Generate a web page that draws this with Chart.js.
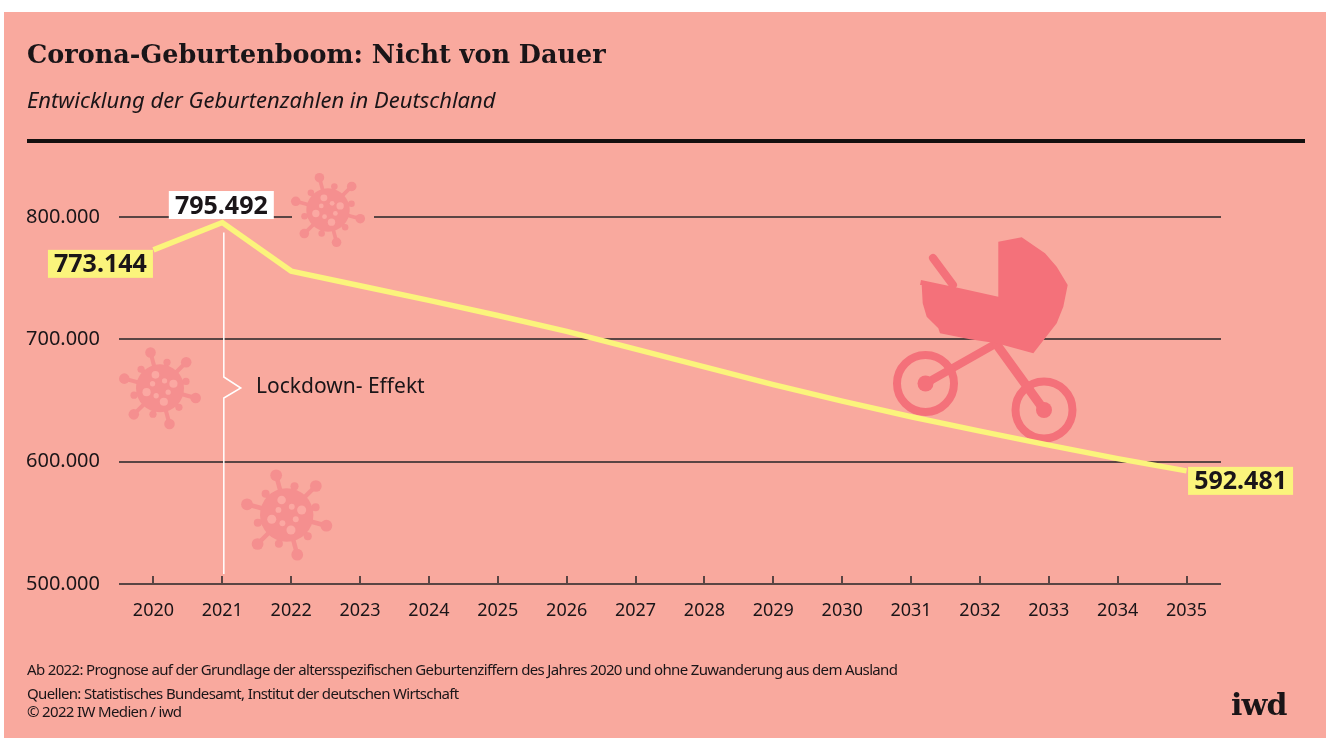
<!DOCTYPE html>
<html lang="de">
<head>
<meta charset="utf-8">
<title>Corona-Geburtenboom</title>
<script src="https://cdn.jsdelivr.net/npm/chart.js@4"></script>
<style>
    html, body { margin: 0; padding: 0; background: #fff; overflow: hidden; }
    #wrap { position: relative; width: 1326px; height: 738px; }
    canvas { position: absolute; left: 0; top: 0; }
    .txt { position: absolute; white-space: nowrap; color: #1a1518; font-family: "Noto Sans", sans-serif; }
    #title { left: 27px; top: 39px; font: bold 25.5px "DejaVu Serif", serif; }
    #subtitle { left: 27px; top: 84px; font-size: 22px; font-style: italic; }
    #rule { position: absolute; left: 27px; top: 139px; width: 1278px; height: 4px; background: #14100f; }
    .note { font-size: 15px; letter-spacing: -0.65px; left: 27px; }
    #logo { left: 1231px; top: 687px; font: bold 30px "DejaVu Serif", serif; letter-spacing: -0.8px; }
</style>
</head>
<body>
<div id="wrap">
    <canvas id="birthChart" width="1326" height="738"></canvas>
    <div class="txt" id="title">Corona-Geburtenboom: Nicht von Dauer</div>
    <div class="txt" id="subtitle">Entwicklung der Geburtenzahlen in Deutschland</div>
    <div id="rule"></div>
    <div class="txt note" style="top:659px">Ab 2022: Prognose auf der Grundlage der altersspezifischen Geburtenziffern des Jahres 2020 und ohne Zuwanderung aus dem Ausland</div>
    <div class="txt note" style="top:683px">Quellen: Statistisches Bundesamt, Institut der deutschen Wirtschaft</div>
    <div class="txt note" style="top:701px">© 2022 IW Medien / iwd</div>
    <div class="txt" id="logo">iwd</div>
</div>
<script>
const years = ['2020', '2021', '2022', '2023', '2024', '2025', '2026', '2027',
    '2028', '2029', '2030', '2031', '2032', '2033', '2034', '2035'];
const births = [773144, 795492, 755800, 743800, 731800, 719500, 706500, 692000,
    677500, 663000, 649500, 636700, 625000, 613500, 602500, 592481];
const yTicks = [500000, 600000, 700000, 800000];
const yTickLabels = ['500.000', '600.000', '700.000', '800.000'];
const valueLabels = ['773.144', '795.492', '592.481'];

const PINK = '#f9a99e';
const YELLOW = '#fbf47c';
const VIRUS = '#f58f8f';
const PRAM = '#f4717a';
const DARK = '#1a1518';
const GRID = '#5a4544';

function drawVirus(ctx, cx, cy, r) {
    ctx.save();
    ctx.translate(cx, cy);
    ctx.fillStyle = VIRUS;
    ctx.strokeStyle = VIRUS;
    ctx.lineWidth = r * 0.17;
    // long and short spikes take turns round the body
    for (let i = 0; i < 12; i++) {
        const a = -1.83 + (i / 12) * Math.PI * 2;
        const long = i % 2 === 0;
        const len = long ? r * 1.54 : r * 1.12;
        ctx.beginPath();
        ctx.moveTo(0, 0);
        ctx.lineTo(Math.cos(a) * len, Math.sin(a) * len);
        ctx.stroke();
        ctx.beginPath();
        ctx.arc(Math.cos(a) * len, Math.sin(a) * len, long ? r * 0.22 : r * 0.15, 0, Math.PI * 2);
        ctx.fill();
    }
    ctx.beginPath();
    ctx.arc(0, 0, r, 0, Math.PI * 2);
    ctx.fill();
    ctx.fillStyle = '#fba8a2';
    const spots = [[-0.19, -0.56, 0.16], [0.19, -0.31, 0.11], [0.56, -0.19, 0.17], [-0.31, -0.19, 0.11],
        [-0.56, 0.16, 0.17], [0.34, 0.16, 0.11], [-0.16, 0.31, 0.11], [0.16, 0.56, 0.17]];
    spots.forEach(s => {
        ctx.beginPath();
        ctx.arc(s[0] * r, s[1] * r, s[2] * r, 0, Math.PI * 2);
        ctx.fill();
    });
    ctx.restore();
}

function drawPram(ctx) {
    const body = [[998.3, 241.7], [1021.7, 237.3], [1045, 253.3], [1056.7, 266.7], [1067.7, 285], [1063.3, 306.7],
        [1056.7, 323.3], [1045, 338.3], [1033.3, 353.3], [996.7, 343.3], [970, 339.3], [940, 333.3], [938.3, 328.3],
        [926.7, 316.7], [922.7, 303.3], [921.7, 285], [920, 285], [921, 280], [960, 288.3], [998.3, 296.7]];
    const bars = [[933, 258, 953, 285, 8], [925.5, 383.5, 997, 343, 8], [997, 345, 1044, 410, 9]];
    const wheels = [[925.5, 383.5], [1044, 410]];
    ctx.save();
    ctx.fillStyle = PRAM;
    ctx.strokeStyle = PRAM;
    ctx.lineCap = 'round';
    bars.forEach(b => {
        ctx.lineWidth = b[4];
        ctx.beginPath();
        ctx.moveTo(b[0], b[1]);
        ctx.lineTo(b[2], b[3]);
        ctx.stroke();
    });
    ctx.beginPath();
    body.forEach((p, i) => i ? ctx.lineTo(p[0], p[1]) : ctx.moveTo(p[0], p[1]));
    ctx.closePath();
    ctx.fill();
    ctx.lineWidth = 8;
    wheels.forEach(w => {
        ctx.beginPath();
        ctx.arc(w[0], w[1], 28.5, 0, Math.PI * 2);
        ctx.stroke();
        ctx.beginPath();
        ctx.arc(w[0], w[1], 8, 0, Math.PI * 2);
        ctx.fill();
    });
    ctx.restore();
}

// pink page, axis ticks, lockdown marker and the pictures behind the line
const backdrop = {
    id: 'backdrop',
    beforeDraw(chart) {
        const ctx = chart.ctx;
        ctx.fillStyle = PINK;
        ctx.fillRect(4, 12, 1322, 726);
    },
    beforeDatasetsDraw(chart) {
        const ctx = chart.ctx;
        const x = chart.scales.x;
        const y = chart.scales.y;

        ctx.save();
        ctx.strokeStyle = GRID;
        ctx.lineWidth = 2;
        years.forEach((yr, i) => {
            const px = Math.round(x.getPixelForTick(i));
            ctx.beginPath();
            ctx.moveTo(px, y.bottom);
            ctx.lineTo(px, y.bottom - 8);
            ctx.stroke();
        });

        // gap in the top grid line round the first virus
        ctx.fillStyle = PINK;
        ctx.fillRect(292, y.getPixelForValue(800000) - 3, 82, 6);

        // lockdown marker under the 2021 peak
        const lx = x.getPixelForValue(1) + 1.5;
        ctx.strokeStyle = '#ffffff';
        ctx.lineWidth = 1.5;
        ctx.beginPath();
        ctx.moveTo(lx, y.getPixelForValue(births[1]) + 10);
        ctx.lineTo(lx, 377);
        ctx.lineTo(lx + 17, 388);
        ctx.lineTo(lx, 398);
        ctx.lineTo(lx, y.bottom - 10);
        ctx.stroke();

        ctx.fillStyle = DARK;
        ctx.font = '21px "Noto Sans", sans-serif';
        ctx.textAlign = 'left';
        ctx.textBaseline = 'middle';
        ctx.fillText('Lockdown- Effekt', 256, 387);
        ctx.restore();

        drawVirus(ctx, 328, 210, 21.7);
        drawVirus(ctx, 160, 388.3, 24);
        drawVirus(ctx, 286.7, 515, 26.7);
        drawPram(ctx);
    },
    afterDatasetsDraw(chart) {
        const ctx = chart.ctx;
        const x = chart.scales.x;
        const y = chart.scales.y;
        // box offsets are relative to the data point they belong to
        const boxes = [
            { i: 0, text: valueLabels[0], dx: -105.5, dy: 0, fill: YELLOW },
            { i: 1, text: valueLabels[1], dx: -53.5, dy: -31.5, fill: '#ffffff' },
            { i: 15, text: valueLabels[2], dx: 1.5, dy: -4, fill: YELLOW }
        ];
        ctx.save();
        ctx.font = 'bold 25px "Noto Sans", sans-serif';
        ctx.textAlign = 'center';
        ctx.textBaseline = 'middle';
        boxes.forEach(b => {
            const left = x.getPixelForValue(b.i) + b.dx;
            const top = y.getPixelForValue(births[b.i]) + b.dy;
            ctx.fillStyle = b.fill;
            ctx.fillRect(left, top, 105, 28);
            ctx.fillStyle = DARK;
            ctx.fillText(b.text, left + 52.5, top + 15.5);
        });
        ctx.restore();
    }
};

new Chart(document.getElementById('birthChart').getContext('2d'), {
    type: 'line',
    data: {
        labels: years,
        datasets: [{
            data: births,
            borderColor: YELLOW,
            borderWidth: 5.5,
            borderJoinStyle: 'miter',
            tension: 0,
            pointRadius: 0,
            clip: false
        }]
    },
    options: {
        responsive: false,
        animation: false,
        layout: { padding: { top: 217, right: 105, left: 0, bottom: 0 } },
        plugins: { legend: { display: false }, tooltip: { enabled: false } },
        scales: {
            x: {
                offset: true,
                afterFit: s => { s.height = 154; },
                grid: { display: false },
                border: { display: false },
                ticks: {
                    color: DARK,
                    padding: 8,
                    autoSkip: false,
                    maxRotation: 0,
                    font: { family: '"Noto Sans", sans-serif', size: 18 }
                }
            },
            y: {
                min: 500000,
                max: 800000,
                afterFit: s => { s.width = 119; },
                afterBuildTicks: s => { s.ticks = yTicks.map(v => ({ value: v })); },
                grid: { color: GRID, lineWidth: 2, drawTicks: false },
                border: { display: false },
                ticks: {
                    color: DARK,
                    padding: 19,
                    callback: v => yTickLabels[yTicks.indexOf(v)],
                    font: { family: '"Noto Sans", sans-serif', size: 20 }
                }
            }
        }
    },
    plugins: [backdrop]
});
</script>
</body>
</html>
